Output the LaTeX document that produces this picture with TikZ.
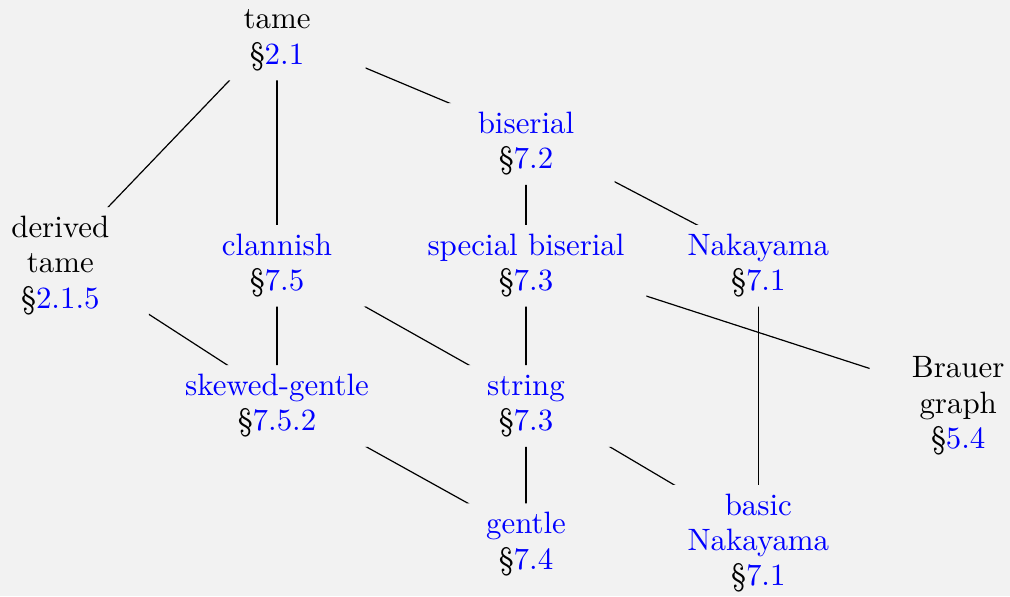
\documentclass[tikz,border=0pt]{standalone}
\usepackage{xcolor}
\definecolor{bgc}{HTML}{F2F2F2}
\definecolor{lnkc}{RGB}{0,0,255}
\newcommand\lk[1]{\textcolor{lnkc}{#1}}
\newcommand\cnx[2]{%
  \begin{scope}
    \clip (0,0) rectangle (1010,596)
      (#1.south west) rectangle (#1.north east)
      (#2.south west) rectangle (#2.north east);
    \draw ([yshift=2.9pt]#1.center) -- ([yshift=2.9pt]#2.center);
  \end{scope}}
\begin{document}
\begin{tikzpicture}[x=0.33333pt,y=-0.33333pt,
  nd/.style={align=center, minimum width=59pt, inner xsep=7.3pt, inner ysep=1.8pt,
    outer sep=0pt, font=\fontsize{10.3pt}{11.83pt}\selectfont}]
\fill[bgc] (0,0) rectangle (1010,596);
\useasboundingbox (0,0) rectangle (1010,596);
\node[nd] (tame) at (277,39.5) {tame\strut\\\S\lk{2.1}\strut};
\node[nd] (bis) at (526,144) {\lk{biserial}\strut\\\S\lk{7.2}\strut};
\node[nd] (der) at (60.3,265.7) {derived\strut\\tame\\\S\lk{2.1.5}\strut};
\node[nd] (cla) at (277,265.7) {\lk{clannish}\strut\\\S\lk{7.5}\strut};
\node[nd] (spb) at (526,265.7) {\lk{special biserial}\strut\\\S\lk{7.3}\strut};
\node[nd] (nak) at (758.3,265.7) {\lk{Nakayama}\strut\\\S\lk{7.1}\strut};
\node[nd] (skg) at (277,405.9) {\lk{skewed-gentle}\strut\\\S\lk{7.5.2}\strut};
\node[nd] (str) at (526,405.9) {\lk{string}\strut\\\S\lk{7.3}\strut};
\node[nd] (bra) at (958.2,405.9) {Brauer\strut\\graph\\\S\lk{5.4}\strut};
\node[nd] (gen) at (526,544.2) {\lk{gentle}\strut\\\S\lk{7.4}\strut};
\node[nd] (bnk) at (758.3,543.4) {\lk{basic}\strut\\\lk{Nakayama}\\\S\lk{7.1}\strut};
\cnx{tame}{der}
\cnx{tame}{cla}
\cnx{tame}{bis}
\cnx{bis}{spb}
\cnx{bis}{nak}
\cnx{der}{skg}
\cnx{cla}{skg}
\cnx{cla}{str}
\cnx{spb}{str}
\cnx{spb}{bra}
\cnx{nak}{bnk}
\cnx{skg}{gen}
\cnx{str}{gen}
\cnx{str}{bnk}
\end{tikzpicture}
\end{document}
